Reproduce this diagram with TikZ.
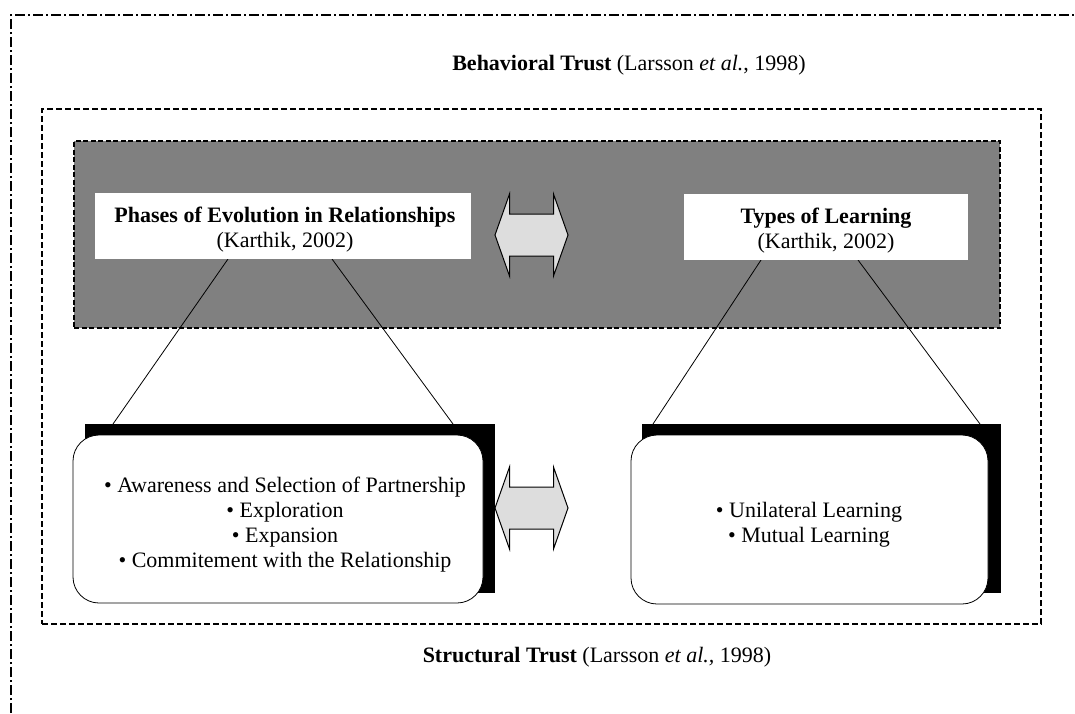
\documentclass[tikz,border=0pt]{standalone}
\usepackage{fontspec}
\setmainfont{Liberation Serif}
\definecolor{boxgray}{HTML}{808080}
\definecolor{arrowgray}{HTML}{DDDDDD}
\begin{document}
\begin{tikzpicture}[x=1pt,y=-1pt,
  font=\fontsize{22}{25}\selectfont,
  outerline/.style={line width=1.8pt, dash pattern=on 10pt off 3pt on 2pt off 3pt},
  innerline/.style={line width=1.8pt, dash pattern=on 6pt off 3pt},
  graybox/.style={fill=boxgray, draw=black, line width=1.4pt, dash pattern=on 5pt off 2.5pt, inner sep=0pt},
  titlebox/.style={fill=white, inner sep=0pt},
  shadowbox/.style={fill=black, inner sep=0pt},
  listbox/.style={fill=white, draw=black, line width=0.8pt, rounded corners=26pt, inner sep=0pt},
  txt/.style={align=center, inner sep=0pt},
  conn/.style={line width=0.8pt},
  dblarr/.pic={\draw[fill=arrowgray, line width=1pt, line join=miter]
     (-36.5,0) -- (-22,-41) -- (-22,-21) -- (22,-21) -- (22,-41) -- (36.5,0)
     -- (22,41) -- (22,21) -- (-22,21) -- (-22,41) -- cycle;}
]
\useasboundingbox (0,0) rectangle (1075,713);

% outer (behavioral) frame, only top and left edges visible
\draw[outerline] (11,713) -- (11,15) -- (1075,15);
\node[txt] (behav) at (629,65) {\textbf{Behavioral Trust} (Larsson \textit{et al.}, 1998)};

% inner (structural) dashed frame
\node[innerline, draw, minimum width=999pt, minimum height=515pt, inner sep=0pt] (struct) at (541.5,366.5) {};
\node[txt] (structt) at (597,657) {\textbf{Structural Trust} (Larsson \textit{et al.,} 1998)};

% gray band
\node[graybox, minimum width=926pt, minimum height=187pt] (band) at (537,234.5) {};

% connectors
\coordinate (p1) at (228,259);
\coordinate (p2) at (332,259);
\coordinate (t1) at (761,260);
\coordinate (t2) at (858,260);
\coordinate (q1) at (113,424);
\coordinate (q2) at (453,424);
\coordinate (u1) at (653,424);
\coordinate (u2) at (980,424);
\draw[conn] (p1) -- (q1);
\draw[conn] (p2) -- (q2);
\draw[conn] (t1) -- (u1);
\draw[conn] (t2) -- (u2);

% title boxes
\node[titlebox, minimum width=376pt, minimum height=66pt] (phases) at (283,226) {};
\node[txt] (phasest) at (285,229.5) {\textbf{Phases of Evolution in Relationships}\\(Karthik, 2002)};
\node[titlebox, minimum width=284pt, minimum height=66pt] (types) at (826,227) {};
\node[txt] (typest) at (826,230.4) {\textbf{Types of Learning}\\(Karthik, 2002)};

% double arrows
\pic (arrtop) at (531.5,235) {dblarr};
\pic (arrbot) at (531.5,508) {dblarr};

% lower boxes with shadows
\node[shadowbox, minimum width=410pt, minimum height=169pt] (lshadow) at (290,508.5) {};
\node[listbox, minimum width=410pt, minimum height=168pt] (lbox) at (278,519) {};
\node[txt] (ltext) at (285,525) {\textbullet\ Awareness and Selection of Partnership\\
  \textbullet\ Exploration\\ \textbullet\ Expansion\\ \textbullet\ Commitement with the Relationship};

\node[shadowbox, minimum width=359pt, minimum height=169pt] (rshadow) at (821.5,508.5) {};
\node[listbox, minimum width=357pt, minimum height=169pt] (rbox) at (809.5,519.5) {};
\node[txt] (rtext) at (809,524.4) {\textbullet\ Unilateral Learning\\ \textbullet\ Mutual Learning};
\end{tikzpicture}
\end{document}
